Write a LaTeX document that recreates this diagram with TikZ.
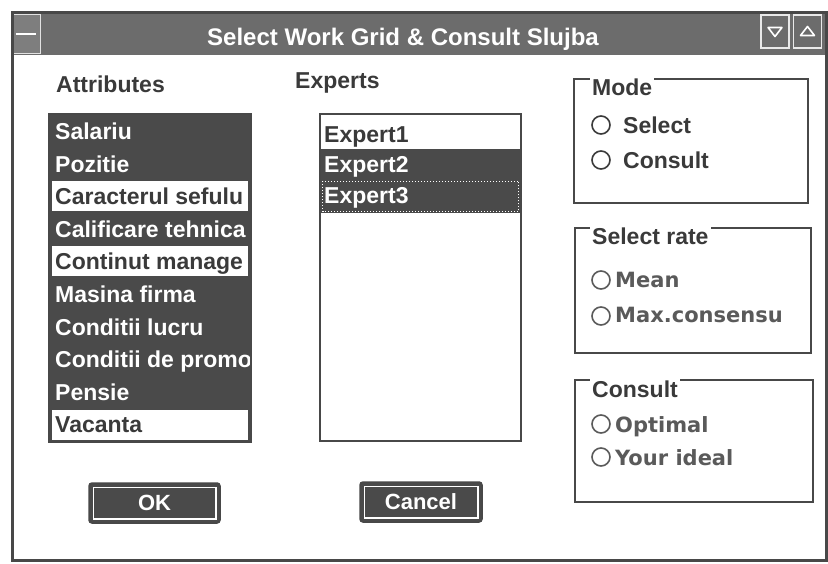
\documentclass[tikz,border=0pt]{standalone}
\usepackage{fontspec}
\setmainfont{Liberation Sans}
\newfontfamily\dimfont{DejaVu Sans}
\definecolor{barfill}{HTML}{6C6C6C}
\definecolor{selfill}{HTML}{4A4A4A}
\definecolor{ink}{HTML}{3A3A3A}
\definecolor{dimink}{HTML}{5A5A5A}
\definecolor{frame}{HTML}{484848}
\tikzset{
  uitext/.style={font=\fontsize{23}{26}\selectfont\bfseries, inner sep=0pt, text=ink},
  itemtext/.style={uitext, anchor=base west},
  seltext/.style={itemtext, text=white},
  dimtext/.style={font=\dimfont\fontsize{21}{24}\selectfont\bfseries, inner sep=0pt, text=dimink, anchor=base west},
  radio/.style={circle, draw=ink, line width=1.6pt, minimum size=18pt, inner sep=0pt},
  groupbox/.style={draw=frame, line width=2pt},
  grouptitle/.style={uitext, anchor=base west, fill=white, inner xsep=2pt, inner ysep=3pt},
  listframe/.style={draw=frame, line width=2pt},
  button/.style={rectangle, rounded corners=3pt, fill=selfill, draw=frame, line width=1.5pt,
    text=white, font=\fontsize{22}{24}\selectfont\bfseries, inner sep=0pt},
  capbtn/.style={draw=white!85!barfill, line width=1.5pt, fill=barfill, inner sep=0pt,
    minimum width=28pt, minimum height=33pt}
}
\begin{document}
\begin{tikzpicture}[x=1pt,y=-1pt]
\useasboundingbox (0,0) rectangle (828,564);
\fill[white] (0,0) rectangle (828,564);

% title bar
\fill[barfill] (12,13) rectangle (826,55);
\node[font=\fontsize{24}{26}\selectfont\bfseries, text=white, anchor=base, inner sep=0pt]
  (title) at (403,46) {Select Work Grid \& Consult Slujba};

% system menu box
\node[draw=white!80!barfill, line width=1.2pt, fill=barfill!88!white, inner sep=0pt,
  minimum width=29pt, minimum height=39pt] (sysmenu) at (26,34) {};
\draw[white, line width=2.5pt] ([xshift=-10pt]sysmenu.center) -- ([xshift=10pt]sysmenu.center);

% minimize / maximize buttons
\node[capbtn] (minbtn) at (775,31.5) {};
\node[capbtn] (maxbtn) at (807.5,31.5) {};
\draw[white, line width=1.6pt, line join=round]
  ([shift={(-7pt,4pt)}]minbtn.center) -- ([shift={(7pt,4pt)}]minbtn.center)
  -- ([shift={(0pt,-5pt)}]minbtn.center) -- cycle;
\draw[white, line width=1.6pt, line join=round]
  ([shift={(-7pt,-4pt)}]maxbtn.center) -- ([shift={(7pt,-4pt)}]maxbtn.center)
  -- ([shift={(0pt,5pt)}]maxbtn.center) -- cycle;

% window frame
\draw[frame, line width=3pt] (12,13) rectangle (826,560);

% column headings
\node[itemtext] (hattr) at (56,93) {Attributes};
\node[itemtext] (hexp) at (295,89) {Experts};

% attributes list box
\fill[selfill] (49,114) rectangle (251,442);
\foreach \r in {2,4} {
  \fill[white] (52,115+32.5*\r+1.5) rectangle (248,115+32.5*\r+31);
}
\fill[white] (52,408.5+1.5) rectangle (248,439.5);
\begin{scope}
  \clip (51,115) rectangle (249,441);
  \node[seltext] (a0) at (55,140) {Salariu};
  \node[seltext] (a1) at (55,172.5) {Pozitie};
  \node[itemtext] (a2) at (55,205) {Caracterul sefulu};
  \node[seltext] (a3) at (55,237.5) {Calificare tehnica};
  \node[itemtext] (a4) at (55,270) {Continut manage};
  \node[seltext] (a5) at (55,302.5) {Masina firma};
  \node[seltext] (a6) at (55,335) {Conditii lucru};
  \node[seltext] (a7) at (55,367.5) {Conditii de promo};
  \node[seltext] (a8) at (55,400) {Pensie};
  \node[itemtext] (a9) at (55,432) {Vacanta};
\end{scope}
\draw[listframe] (49,114) rectangle (251,442);

% experts list box
\fill[selfill] (321,149) rectangle (520,213);
\draw[white, dotted, line width=1pt] (322.5,181.5) rectangle (518.5,212);
\node[itemtext] (e1) at (324,143) {Expert1};
\node[seltext] (e2) at (324,173) {Expert2};
\node[seltext] (e3) at (324,204) {Expert3};
\draw[listframe] (320,114) rectangle (521,441);

% Mode group
\draw[groupbox] (574,79) rectangle (808,203);
\node[grouptitle] (gmode) at (590,96) {Mode};
\node[radio] (rsel) at (601,125) {};
\node[itemtext] (lsel) at (623,134) {Select};
\node[radio] (rcons) at (601,160) {};
\node[itemtext] (lcons) at (623,169) {Consult};

% Select rate group
\draw[groupbox] (575,228) rectangle (811,353);
\node[grouptitle] (grate) at (590,245) {Select rate};
\node[radio, draw=dimink] (rmean) at (601,280) {};
\node[dimtext] (lmean) at (615,288) {Mean};
\node[radio, draw=dimink] (rmax) at (601,316) {};
\node[dimtext] (lmax) at (615,323) {Max.consensu};

% Consult group
\draw[groupbox] (575,380) rectangle (813,502);
\node[grouptitle] (gcons) at (590,397) {Consult};
\node[radio, draw=dimink] (ropt) at (601,424) {};
\node[dimtext] (lopt) at (615,432) {Optimal};
\node[radio, draw=dimink] (rideal) at (601,457) {};
\node[dimtext] (lideal) at (615,465) {Your ideal};

% push buttons
\node[button, minimum width=131pt, minimum height=40pt] (ok) at (154.5,503) {OK};
\draw[white, line width=1.5pt] ([shift={(5pt,-5pt)}]ok.north west) rectangle ([shift={(-5pt,5pt)}]ok.south east);
\node[button, minimum width=122pt, minimum height=40pt] (cancel) at (421,502) {Cancel};
\draw[white, line width=1.5pt] ([shift={(5pt,-5pt)}]cancel.north west) rectangle ([shift={(-5pt,5pt)}]cancel.south east);
\end{tikzpicture}
\end{document}
